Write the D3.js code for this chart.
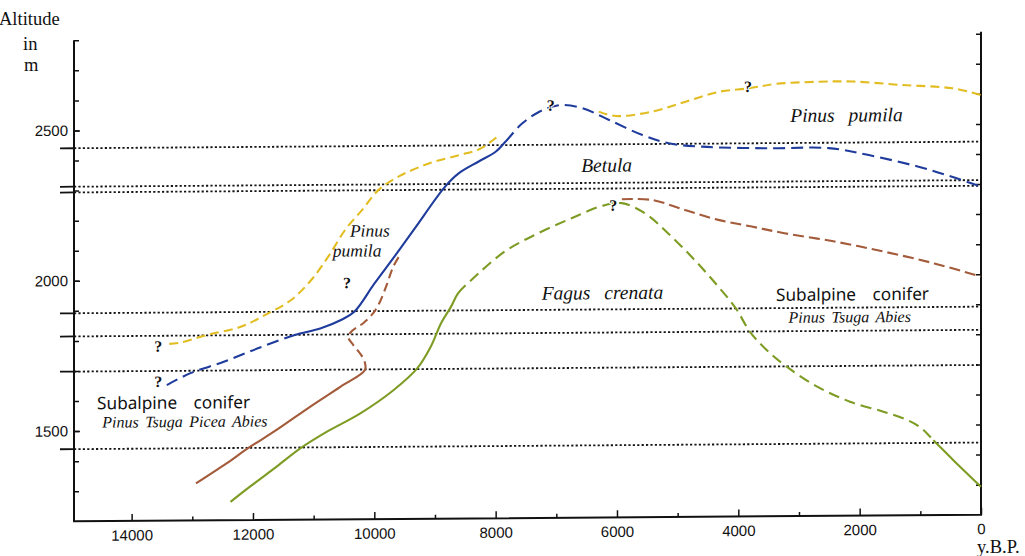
<!DOCTYPE html>
<html>
<head>
<meta charset="utf-8">
<script src="https://cdn.jsdelivr.net/npm/d3@7"></script>
<style>
  html, body { margin: 0; padding: 0; background: #fff; }
  svg { display: block; }
</style>
</head>
<body>
<svg id="chart" width="1025" height="556"></svg>
<script>
// ---- axis ticks ----
const majorYears = [14000, 12000, 10000, 8000, 6000, 4000, 2000, 0];
const minorYears = [13000, 11000, 9000, 7000, 5000, 3000, 1000];
const altitudeLabels = [1500, 2000, 2500];
const altitudeTicks = [1300, 1400, 1500, 1600, 1700, 1800, 1900, 2000, 2100, 2200, 2300, 2400, 2500, 2600, 2700, 2800];

// ---- present-day zone boundaries (m) ----
const zoneBoundaries = [2441, 2313, 2294, 1892, 1815, 1698, 1440];

// ---- vegetation limits: [years B.P., altitude m] ----
// Pinus pumila
const pumilaEarly = [[13380,1788],[13190,1792],[12750,1817],[12200,1843],[11750,1887],[11370,1931],[11040,1997],[10760,2074],[10480,2163],[10200,2229],[9930,2295],[9580,2341],[9080,2383],[8590,2409],[8260,2429],[7980,2468]];
const pumilaLate = [[6300,2550],[6020,2535],[5420,2549],[4870,2581],[4320,2613],[3820,2624],[3380,2638],[2670,2644],[2120,2644],[1290,2631],[470,2619],[0,2596]];
// Betula
const betulaEarly = [[13420,1651],[13030,1690],[12480,1727],[11920,1771],[11320,1814]];
const betulaMiddle = [[11320,1814],[10880,1836],[10550,1863],[10330,1890],[10000,1983],[9660,2075],[9330,2167],[8830,2305],[8610,2348],[8280,2387],[8000,2419],[7840,2452]];
const betulaLate = [[7840,2452],[7560,2513],[7280,2551],[7060,2568],[6900,2573],[6570,2562],[6130,2522],[5580,2471],[5150,2443],[4600,2431],[3500,2424],[2510,2423],[1850,2399],[1030,2359],[480,2325],[0,2291]];
// Subalpine conifer
const coniferEarly = [[12940,1323],[12436,1389],[12080,1439],[11611,1499],[11054,1576],[10560,1641],[10155,1696]];
const coniferCurl = [[10155,1696],[10160,1724],[10237,1752],[10348,1780],[10430,1807],[10348,1830],[10183,1852],[10018,1885],[9907,1923],[9797,1978],[9689,2039],[9578,2078]];
const coniferLate = [[5920,2258],[5430,2255],[4880,2221],[4330,2187],[3780,2164],[3240,2141],[2410,2112],[1590,2077],[770,2037],[0,1992]];
// Fagus crenata
const fagusEarly = [[12370,1261],[12050,1311],[11610,1377],[11220,1437],[10780,1492],[10230,1552],[9680,1629],[9290,1701],[9070,1772],[8900,1850],[8735,1905],[8620,1949]];
const fagusMiddle = [[8620,1949],[8400,1993],[7850,2087],[7300,2147],[6750,2196],[6250,2236],[5920,2245],[5540,2211],[5160,2144],[4720,2054],[4330,1965],[4040,1892],[3808,1814],[3533,1753],[3203,1697],[2700,1630],[2160,1579],[1610,1545],[1220,1517],[1000,1492],[790,1450]];
const fagusLate = [[790,1450],[460,1383],[0,1293]];

// ---- uncertain points ----
const queries = [[13560,1781],[13560,1663],[10450,1987],[7090,2573],[3840,2630],[6060,2239]];

// ---- zone names: [text, year, altitude, style] ----
const zoneLabels = [
  ["Pinus pumila", 2217, 2511, "species"],
  ["Betula", 6170, 2350, "species"],
  ["Fagus crenata", 6240, 1926, "species"],
  ["Subalpine conifer", 2118, 1916, "zone"],
  ["Pinus Tsuga Abies", 2163, 1843, "genera"],
  ["Subalpine conifer", 13309, 1572, "zone"],
  ["Pinus Tsuga Picea Abies", 13122, 1511, "genera"]
];
const stackedLabels = [["Pinus", 10402, 2140], ["pumila", 10683, 2074]];

const colors = { pumila: "#e2bd22", betula: "#1f3c9c", conifer: "#a35b3a", fagus: "#7e9c24" };

const svg = d3.select("#chart");
svg.append("rect").attr("width", 1025).attr("height", 556).attr("fill", "#fff");

const x = d3.scaleLinear().domain([14950, 0]).range([74, 981]);
const y = d3.scaleLinear().domain([1200, 2800]).range([518, 37]);

// the printed plate sits with a slight slope
const g = svg.append("g").attr("transform", "matrix(1,-0.0073,0,1,0,3.85)");

const x0 = x(14950), x1 = x(0), yBottom = y(1200), yTop = y(2800);

// zone boundaries
zoneBoundaries.forEach(a => {
  g.append("line").attr("x1", x0 - 14).attr("x2", x0).attr("y1", y(a)).attr("y2", y(a))
    .attr("stroke", "#111").attr("stroke-width", 1.8);
  g.append("line").attr("x1", x0).attr("x2", x1).attr("y1", y(a)).attr("y2", y(a))
    .attr("stroke", "#151515").attr("stroke-width", 1.8).attr("stroke-dasharray", "2.2,2.2");
});

// frame (open at the top)
g.append("path")
  .attr("d", `M${x0},${yTop}L${x0},${yBottom}L${x1},${yBottom}L${x1},${yTop - 2}`)
  .attr("fill", "none").attr("stroke", "#111").attr("stroke-width", 2);

const numFont = "'Liberation Sans', Arial, sans-serif";

// bottom axis
const xMajor = g.append("g").attr("transform", `translate(0,${yBottom})`)
  .call(d3.axisBottom(x).tickValues(majorYears).tickSize(-7).tickPadding(9).tickFormat(d3.format("d")));
const xMinor = g.append("g").attr("transform", `translate(0,${yBottom})`)
  .call(d3.axisBottom(x).tickValues(minorYears).tickSize(-4).tickFormat(""));
// left axis
const yMinor = g.append("g").attr("transform", `translate(${x0},0)`)
  .call(d3.axisLeft(y).tickValues(altitudeTicks).tickSize(-5).tickFormat(""));
const yMajor = g.append("g").attr("transform", `translate(${x0},0)`)
  .call(d3.axisLeft(y).tickValues(altitudeLabels).tickSize(-6).tickPadding(6).tickFormat(d3.format("d")));
// right axis
const yRight = g.append("g").attr("transform", `translate(${x1},0)`)
  .call(d3.axisRight(y).tickValues(altitudeTicks).tickSize(-5).tickFormat(""));

[xMajor, xMinor, yMinor, yMajor, yRight].forEach(a => {
  a.select(".domain").remove();
  a.selectAll(".tick line").attr("stroke", "#111").attr("stroke-width", 1.5);
  a.selectAll("text").attr("font-family", numFont).attr("font-size", 15).attr("fill", "#111");
});

// curves: each limit is one smooth path; solid and dashed stretches are set through its dash array
const line = d3.line().x(d => x(d[0])).y(d => y(d[1])).curve(d3.curveCatmullRom.alpha(0.5));

function drawLimit(parts, color) {
  const pts = parts.reduce((acc, p, i) => acc.concat(i ? p.pts.slice(1) : p.pts), []);
  const path = g.append("path").datum(pts).attr("d", line)
    .attr("fill", "none").attr("stroke", color).attr("stroke-width", 2.1)
    .attr("stroke-linecap", "butt");
  const node = path.node();
  const total = node.getTotalLength();
  const samples = [];
  for (let l = 0; l <= total; l += 0.5) samples.push([l, node.getPointAtLength(l)]);
  const cuts = [];
  let from = 0;
  parts.slice(0, -1).forEach(p => {
    const end = p.pts[p.pts.length - 1];
    const ex = x(end[0]), ey = y(end[1]);
    let best = from, bd = Infinity;
    samples.forEach(([l, pt]) => {
      if (l < from) return;
      const d = (pt.x - ex) ** 2 + (pt.y - ey) ** 2;
      if (d < bd) { bd = d; best = l; }
    });
    cuts.push(best);
    from = best;
  });
  cuts.push(total);
  const arr = [];
  let start = 0;
  parts.forEach((p, i) => {
    const len = cuts[i] - start;
    if (!p.dash) {
      arr.push(len, 0);
    } else {
      let acc = 0;
      while (acc < len - 0.01) {
        const d = Math.min(p.dash[0], len - acc); arr.push(d); acc += d;
        const gp = Math.min(p.dash[1], len - acc); arr.push(gp); acc += gp;
      }
    }
    start = cuts[i];
  });
  arr.push(0, 1000);
  path.attr("stroke-dasharray", arr.map(v => v.toFixed(2)).join(","));
}

drawLimit([{ pts: pumilaEarly, dash: [9, 5] }], colors.pumila);
drawLimit([{ pts: pumilaLate, dash: [9, 5] }], colors.pumila);
drawLimit([
  { pts: betulaEarly, dash: [12, 6] },
  { pts: betulaMiddle, dash: null },
  { pts: betulaLate, dash: [12, 6] }
], colors.betula);
drawLimit([
  { pts: coniferEarly, dash: null },
  { pts: coniferCurl, dash: [9, 5] }
], colors.conifer);
drawLimit([{ pts: coniferLate, dash: [11, 5] }], colors.conifer);
drawLimit([
  { pts: fagusEarly, dash: null },
  { pts: fagusMiddle, dash: [11, 6] },
  { pts: fagusLate, dash: null }
], colors.fagus);

const serif = "'Liberation Serif', 'Times New Roman', serif";
const sans = "'Noto Sans', sans-serif";

// question marks
g.selectAll("text.q").data(queries).join("text")
  .attr("class", "q")
  .attr("x", d => x(d[0])).attr("y", d => y(d[1])).attr("dy", "0.35em")
  .attr("text-anchor", "middle")
  .attr("font-family", serif).attr("font-size", 16).attr("font-weight", "bold")
  .attr("fill", "#111")
  .attr("stroke", "#fff").attr("stroke-width", 2).attr("paint-order", "stroke")
  .text("?");

// zone names
const labelStyle = {
  species: { family: serif, size: 19.5, italic: true, spacing: 9 },
  zone: { family: sans, size: 17.2, italic: false, spacing: 12 },
  genera: { family: serif, size: 16, italic: true, spacing: 2.5 }
};
zoneLabels.forEach(([t, yr, alt, kind]) => {
  const s = labelStyle[kind];
  g.append("text")
    .attr("x", x(yr)).attr("y", y(alt))
    .attr("text-anchor", "middle")
    .attr("font-family", s.family).attr("font-size", s.size)
    .attr("font-style", s.italic ? "italic" : "normal")
    .attr("word-spacing", s.spacing)
    .attr("fill", "#111")
    .text(t);
});
stackedLabels.forEach(([t, yr, alt]) => {
  g.append("text")
    .attr("x", x(yr)).attr("y", y(alt))
    .attr("font-family", serif).attr("font-size", 17.5).attr("font-style", "italic")
    .attr("fill", "#111").text(t);
});

// axis titles
const titles = [["Altitude", -1, 25], ["in", 23, 50], ["m", 24, 71], ["y.B.P.", 977, 553]];
svg.selectAll("text.title").data(titles).join("text")
  .attr("class", "title")
  .attr("x", d => d[1]).attr("y", d => d[2])
  .attr("font-family", serif).attr("font-size", 18.5).attr("fill", "#111")
  .text(d => d[0]);
</script>
</body>
</html>
